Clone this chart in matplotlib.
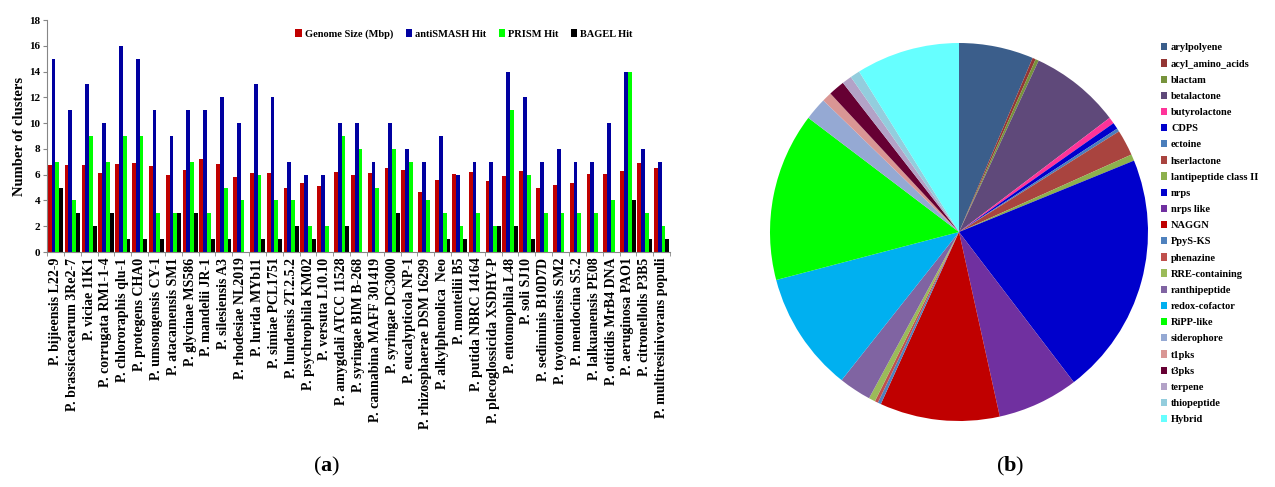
import matplotlib
matplotlib.use('Agg')
import matplotlib.pyplot as plt
from matplotlib.patches import Patch
import numpy as np

plt.rcParams['font.family'] = 'Liberation Serif'
plt.rcParams['mathtext.fontset'] = 'custom'
plt.rcParams['mathtext.rm'] = 'Liberation Serif'
plt.rcParams['mathtext.bf'] = 'Liberation Serif:bold'

# ---- (a) cluster counts per strain ----
strains = ['P. bijieensis L22-9', 'P. brassicacearum 3Re2-7', 'P. viciae 11K1',
           'P. corrugata RM1-1-4', 'P. chlororaphis qlu-1', 'P. protegens CHA0',
           'P. umsongensis CY-1', 'P. atacamensis SM1', 'P. glycinae MS586',
           'P. mandelii JR-1', 'P. silesiensis A3', 'P. rhodesiae NL2019',
           'P. lurida MYb11', 'P. simiae PCL1751', 'P. lundensis 2T.2.5.2',
           'P. psychrophila KM02', 'P. versuta L10.10', 'P. amygdali ATCC 11528',
           'P. syringae BIM B-268', 'P. cannabina MAFF 301419', 'P. syringae DC3000',
           'P. eucalypticola NP-1', 'P. rhizosphaerae DSM 16299',
           'P. alkylphenolica  Neo', 'P. monteilii B5', 'P. putida NBRC 14164',
           'P. plecoglossicida XSDHY-P', 'P. entomophila L48', 'P. soli SJ10',
           'P. sediminis B10D7D', 'P. toyotomiensis SM2', 'P. mendocina S5.2',
           'P. lalkuanensis PE08', 'P. otitidis MrB4 DNA', 'P. aeruginosa PAO1',
           'P. citronellolis P3B5', 'P. multiresinivorans populi']

genome_size = [6.74, 6.74, 6.74, 6.12, 6.85, 6.87, 6.67, 6.0, 6.4, 7.18, 6.8, 5.8,
               6.1, 6.1, 4.96, 5.35, 5.14, 6.2, 6.0, 6.1, 6.5, 6.4, 4.68,
               5.6, 6.07, 6.2, 5.5, 5.9, 6.25, 4.96, 5.2, 5.35,
               6.07, 6.07, 6.25, 6.9, 6.5]
antismash = [15, 11, 13, 10, 16, 15, 11, 9, 11, 11, 12, 10,
             13, 12, 7, 6, 6, 10, 10, 7, 10, 8, 7,
             9, 6, 7, 7, 14, 12, 7, 8, 7,
             7, 10, 14, 8, 7]
prism = [7, 4, 9, 7, 9, 9, 3, 3, 7, 3, 5, 4,
         6, 4, 4, 2, 2, 9, 8, 5, 8, 7, 4,
         3, 2, 3, 2, 11, 6, 3, 3, 3,
         3, 4, 14, 3, 2]
bagel = [5, 3, 2, 3, 1, 1, 1, 3, 3, 1, 1, 0,
         1, 1, 2, 1, 0, 2, 0, 0, 3, 0, 0,
         1, 1, 0, 2, 2, 1, 0, 0, 0,
         0, 0, 4, 1, 1]

series = [('Genome Size (Mbp)', genome_size, '#C00000'),
          ('antiSMASH Hit', antismash, '#0000A0'),
          ('PRISM Hit', prism, '#00FF00'),
          ('BAGEL Hit', bagel, '#000000')]

# ---- (b) cluster types ----
cluster_types = ['arylpolyene', 'acyl_amino_acids', 'blactam', 'betalactone',
                 'butyrolactone', 'CDPS', 'ectoine', 'hserlactone',
                 'lantipeptide class II', 'nrps', 'nrps like', 'NAGGN', 'PpyS-KS',
                 'phenazine', 'RRE-containing', 'ranthipeptide', 'redox-cofactor',
                 'RiPP-like', 'siderophore', 't1pks', 't3pks', 'terpene',
                 'thiopeptide', 'Hybrid']
type_counts = [23, 1, 1, 28, 2, 2, 1, 8, 2, 75, 25, 37, 1, 1, 2, 10, 37, 52,
               7, 3, 5, 3, 3, 32]
type_colors = ['#3B5E8B', '#943634', '#77933C', '#5F497A', '#FF3399', '#0000CC',
               '#4A7EBB', '#A9443F', '#8DB04D', '#0000CC', '#7030A0', '#C00000',
               '#4F81BD', '#C0504D', '#9BBB59', '#8064A2', '#00B0F0', '#00FF00',
               '#95A9D3', '#D99694', '#660033', '#B3A2C7', '#93CDDD', '#66FFFF']

fig = plt.figure(figsize=(12.75, 4.87), dpi=100)

ax = fig.add_axes([0.0369, 0.4825, 0.4886, 0.4764])
x = np.arange(len(strains))
w = 0.226
for k, (name, vals, col) in enumerate(series):
    ax.bar(x + (k - 1.5) * w, vals, w, color=col, label=name, linewidth=0)

ax.set_xlim(-0.5, len(strains) - 0.5)
ax.set_ylim(0, 18)
ax.set_yticks(np.arange(0, 19, 2))
ax.set_xticks(x)
ax.set_xticklabels(strains, rotation=90, fontsize=10, fontweight='bold')
ax.set_xticks(np.arange(len(strains) + 1) - 0.5, minor=True)
ax.tick_params(axis='x', which='major', length=0, pad=4)
ax.tick_params(axis='x', which='minor', length=3, color='#868686')
ax.tick_params(axis='y', length=3, color='#868686', labelsize=8, pad=2)
for lbl in ax.get_yticklabels():
    lbl.set_fontweight('bold')
for s in ['top', 'right']:
    ax.spines[s].set_visible(False)
for s in ['left', 'bottom']:
    ax.spines[s].set_color('#868686')
    ax.spines[s].set_linewidth(0.8)
ax.set_ylabel('Number of clusters', fontsize=10.5, fontweight='bold', labelpad=2)
ax.legend(loc='upper right', bbox_to_anchor=(0.955, 1.0), ncol=4, frameon=False,
          prop={'size': 7.5, 'weight': 'bold'}, handlelength=0.6, handleheight=0.7,
          handletextpad=0.3, columnspacing=1.2)

# ---- pie ----
pax = fig.add_axes([770 / 1275, 1 - 421 / 487, 378 / 1275, 378 / 487])
pax.pie(type_counts, colors=type_colors, startangle=90, counterclock=False,
        radius=1, wedgeprops={'linewidth': 0})
pax.set_xlim(-1, 1)
pax.set_ylim(-1, 1)

handles = [Patch(facecolor=c, edgecolor='none') for c in type_colors]
fig.legend(handles, cluster_types, loc='upper left',
           bbox_to_anchor=(1157 / 1275, 1 - 39 / 487), frameon=False,
           prop={'size': 7.5, 'weight': 'bold'}, handlelength=0.6, handleheight=0.7,
           handletextpad=0.35, labelspacing=0.66, borderaxespad=0)

fig.text(327 / 1275, 1 - 466 / 487, r'($\mathbf{a}$)', fontsize=16, ha='center', va='center')
fig.text(1010 / 1275, 1 - 466 / 487, r'($\mathbf{b}$)', fontsize=16, ha='center', va='center')

fig.savefig('out.png', dpi=100)
